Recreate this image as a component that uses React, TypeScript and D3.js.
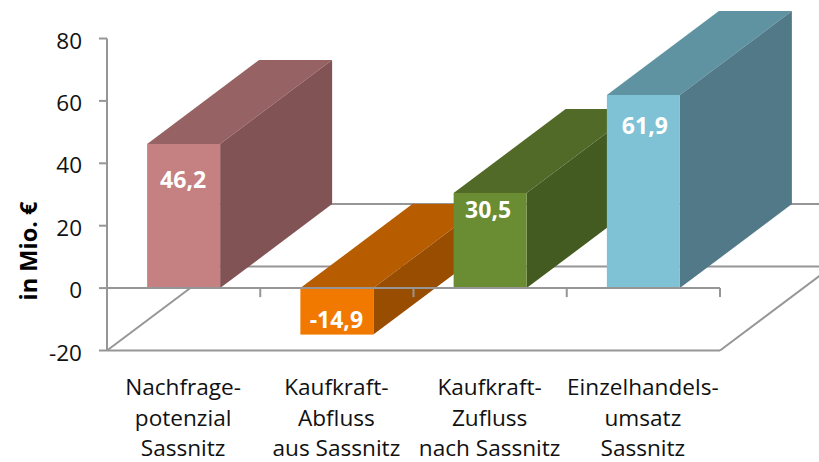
import React from "react";
import * as d3 from "d3";

const categories = ["a", "b", "c", "d"];
const categoryLines = [
  ["Nachfrage-", "potenzial", "Sassnitz"],
  ["Kaufkraft-", "Abfluss", "aus Sassnitz"],
  ["Kaufkraft-", "Zufluss", "nach Sassnitz"],
  ["Einzelhandels-", "umsatz", "Sassnitz"],
];
const values = [46.2, -14.9, 30.5, 61.9];
const valueLabels = ["46,2", "-14,9", "30,5", "61,9"];
const labelDy = [36, 32, 17, 31];
const labelDx = [0, 0, -1.5, 2];
const frontColors = ["#c58081", "#f27900", "#6a8c33", "#7fc1d5"];
const topColors = ["#966263", "#b85c00", "#526a27", "#5f93a2"];
const sideColors = ["#815354", "#994d00", "#435a20", "#517987"];
const yTicks = [-20, 0, 20, 40, 60, 80];

const W = 819;
const H = 462;
const DX = 112;
const DY = -84;
const BAR = 73;
const GRID = "#969696";
const FONT = "'Open Sans', sans-serif";

const y = d3.scaleLinear().domain([-20, 80]).range([350.5, 38.5]);
const x = d3.scaleBand().domain(categories).range([107, 720]).paddingInner(0).paddingOuter(0);
const poly = (p: number[][]) => p.map((q) => q.join(",")).join(" ");

export default function App() {
  const y0 = y(0);
  const yMin = y(-20);
  const xL = 107;
  const xR = 720;
  const tickXs = [...categories.map((c) => x(c)!), xR];
  return (
    <svg width={W} height={H} style={{ position: "absolute", left: 0, top: 0, background: "#fff" }} fontFamily={FONT}>
      <g stroke={GRID} strokeWidth={2} fill="none">
        <line x1={xL} y1={yMin} x2={xL + DX} y2={yMin + DY} />
        <line x1={xR} y1={yMin} x2={xR + DX} y2={yMin + DY} />
        <line x1={xL + DX} y1={yMin + DY} x2={xR + DX} y2={yMin + DY} />
        <line x1={xL + DX} y1={y0 + DY} x2={xR + DX} y2={y0 + DY} />
      </g>
      <line x1={xL} y1={yMin} x2={xR} y2={yMin} stroke={GRID} strokeWidth={2} />
      {categories.map((c, i) => {
        const v = values[i];
        const x0 = x(c)! + (x.bandwidth() - BAR) / 2;
        const x1 = x0 + BAR;
        const yT = Math.min(y(v), y0);
        const yB = Math.max(y(v), y0);
        return (
          <g key={c}>
            <polygon points={poly([[x0, yT], [x1, yT], [x1 + DX, yT + DY], [x0 + DX, yT + DY]])} fill={topColors[i]} />
            <polygon points={poly([[x1, yT], [x1, yB], [x1 + DX, yB + DY], [x1 + DX, yT + DY]])} fill={sideColors[i]} />
          </g>
        );
      })}
      {categories.map((c, i) => {
        const v = values[i];
        const x0 = x(c)! + (x.bandwidth() - BAR) / 2;
        const yT = Math.min(y(v), y0);
        const yB = Math.max(y(v), y0);
        return <rect key={c} x={x0} y={yT} width={BAR} height={yB - yT} fill={frontColors[i]} />;
      })}
      <g stroke={GRID} strokeWidth={2}>
        <line x1={xL} y1={38.5} x2={xL} y2={yMin} />
        {yTicks.map((t) => (
          <line key={t} x1={xL - 8} x2={xL} y1={y(t)} y2={y(t)} />
        ))}
        <line x1={xL} y1={y0} x2={xR} y2={y0} />
        {tickXs.map((t) => (
          <line key={t} x1={t} x2={t} y1={y0} y2={y0 + 9} />
        ))}
      </g>
      {yTicks.map((t) => (
        <text key={t} x={82} y={y(t) + 2} dy="0.36em" textAnchor="end" fontSize={22.5} fill="#111">
          {t}
        </text>
      ))}
      <text
        transform="translate(37,251) rotate(-90)"
        textAnchor="middle"
        fontSize={23.5}
        fontWeight={700}
        fill="#000"
      >
        in Mio. €
      </text>
      {categories.map((c, i) => {
        const v = values[i];
        return (
          <text
            key={c}
            x={x(c)! + x.bandwidth() / 2 - 0.5 + labelDx[i]}
            y={Math.min(y(v), y0) + labelDy[i]}
            dy="0.36em"
            textAnchor="middle"
            fontSize={23}
            fontWeight={700}
            fill="#fff"
          >
            {valueLabels[i]}
          </text>
        );
      })}
      {categories.map((c, i) => (
        <text key={c} textAnchor="middle" fontSize={22.6} fill="#111">
          {categoryLines[i].map((l, j) => (
            <tspan key={j} x={x(c)! + x.bandwidth() / 2 - 0.5} y={395 + j * 30.5}>
              {l}
            </tspan>
          ))}
        </text>
      ))}
    </svg>
  );
}
